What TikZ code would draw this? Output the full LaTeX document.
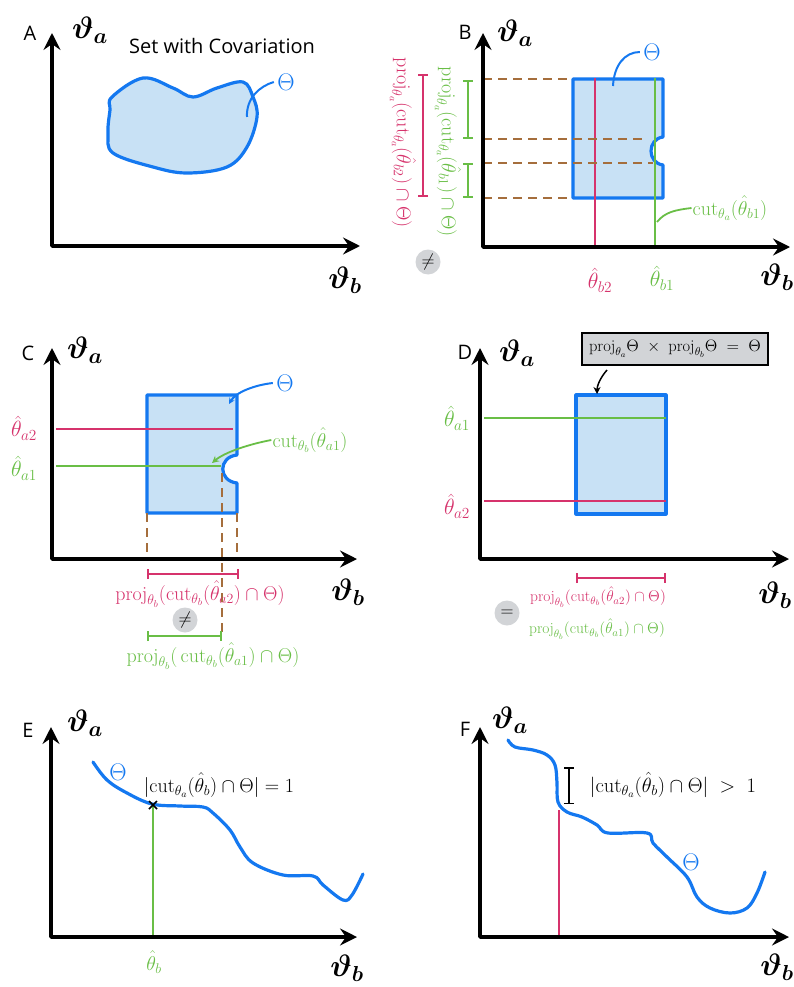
\RequirePackage{fix-cm}
\documentclass[tikz,border=0pt]{standalone}
\usepackage{fontspec}
\setsansfont{Open Sans}
\usepackage{amsmath}
\usetikzlibrary{arrows.meta}
\definecolor{setblue}{RGB}{20,120,240}
\definecolor{setfill}{RGB}{200,225,245}
\definecolor{cred}{RGB}{214,51,108}
\definecolor{cgreen}{RGB}{105,190,70}
\definecolor{cbrown}{RGB}{165,110,60}
\definecolor{cgray}{RGB}{210,212,215}
\begin{document}
\begin{tikzpicture}[x=1pt,y=-1pt,
  axes/.style={line width=3.6pt, line join=round, {Stealth[length=17pt,width=17pt,inset=6pt]}-{Stealth[length=17pt,width=17pt,inset=6pt]}},
  axlbl/.style={font=\fontsize{31}{33}\selectfont\boldmath},
  panellbl/.style={font=\sffamily\fontsize{20}{24}\selectfont},
  setshape/.style={draw=setblue, line width=3.2pt, fill=setfill, line join=round},
  curveline/.style={draw=setblue, line width=3.2pt, line cap=round},
  rln/.style={draw=cred, line width=1.8pt},
  gln/.style={draw=cgreen, line width=1.8pt},
  brdash/.style={draw=cbrown, line width=1.6pt, dash pattern=on 9pt off 6pt},
  barred/.style={{Bar[width=10pt]}-{Bar[width=10pt]}},
  eqcirc/.style={circle, fill=cgray, minimum size=25pt, inner sep=0pt, font=\fontsize{18}{20}\selectfont},
  thetalbl/.style={text=setblue, font=\fontsize{24}{26}\selectfont},
  lead/.style={draw=setblue, line width=2pt},
  rtxt/.style={text=cred},
  gtxt/.style={text=cgreen},
  bigmath/.style={font=\fontsize{20}{22}\selectfont, inner sep=1pt},
  midmath/.style={font=\fontsize{15.5}{17}\selectfont, inner sep=1pt},
  hatlbl/.style={font=\fontsize{22}{24}\selectfont, inner sep=1pt}
]
\useasboundingbox (0,0) rectangle (793,987);

% ---------------- Panel A ----------------
\coordinate (A0) at (52,246); \coordinate (Ay) at (52,33); \coordinate (Ax) at (360,246);
\draw[axes] (Ay) -- (A0) -- (Ax);
\node[panellbl] (Alab) at (30,33) {A};
\node[axlbl] (Ata) at (90,30) {$\vartheta_a$};
\node[axlbl] (Atb) at (345,280) {$\vartheta_b$};
\node[panellbl] (Atitle) at (222,46) {Set with Covariation};
\draw[setshape] plot[smooth cycle, tension=0.6] coordinates {(112,97) (143,78) (173,88) (193,97) (217,88) (243,82) (253,97) (257,117) (247,147) (227,167) (187,173) (153,167) (113,153) (108,133) (110,110)};
\node[thetalbl] (ATh) at (286,82) {$\Theta$};
\coordinate (Als) at (247,117);
\draw[lead] (Als) .. controls (246,98) and (260,86) .. (ATh.west);

% ---------------- Panel B ----------------
\coordinate (B0) at (483,247); \coordinate (By) at (483,33); \coordinate (Bx) at (790,247);
\draw[setshape] (573,79) -- (663,79) -- (663,137) .. controls (647,139) and (647,163) .. (663,165) -- (663,198) -- (573,198) -- cycle;
\draw[rln] (595,78) -- (595,247);
\draw[gln] (655,78) -- (655,247);
\draw[brdash] (483,79) -- (573,79);
\draw[brdash] (483,139) -- (645,139);
\draw[brdash] (483,163) -- (653,163);
\draw[brdash] (483,198) -- (573,198);
\draw[axes] (By) -- (B0) -- (Bx);
\node[panellbl] (Blab) at (465,32) {B};
\node[axlbl] (Bta) at (515,33) {$\vartheta_a$};
\node[axlbl] (Btb) at (777,277) {$\vartheta_b$};
\draw[gln, barred] (468,80) -- (468,139);
\draw[gln, barred] (468,163) -- (468,198);
\draw[rln, barred] (423,74) -- (423,197);
\node[rtxt, bigmath, rotate=-90] (Bred) at (403,143) {$\mathrm{proj}_{\theta_a}(\mathrm{cut}_{\theta_a}(\hat\theta_{b2})\cap\Theta)$};
\node[gtxt, bigmath, rotate=-90] (Bgreen) at (448,152) {$\mathrm{proj}_{\theta_a}(\mathrm{cut}_{\theta_a}(\hat\theta_{b1})\cap\Theta)$};
\node[eqcirc] (Bneq) at (428,262) {$\neq$};
\node[thetalbl] (BTh) at (652,52) {$\Theta$};
\coordinate (Bls) at (613,86);
\draw[lead] (Bls) .. controls (614,65) and (625,52) .. (BTh.west);
\node[gtxt, bigmath] (Bcut) at (730,208) {$\mathrm{cut}_{\theta_a}(\hat\theta_{b1})$};
\coordinate (Bcs) at (657,222);
\draw[gln] (Bcs) .. controls (665,212) and (675,210) .. (Bcut.west);
\node[rtxt, hatlbl] (Bb2) at (600,280) {$\hat\theta_{b2}$};
\node[gtxt, hatlbl] (Bb1) at (662,278) {$\hat\theta_{b1}$};

% ---------------- Panel C ----------------
\coordinate (C0) at (52,559); \coordinate (Cy) at (52,348); \coordinate (Cx) at (357,559);
\draw[setshape] (147,395) -- (237,395) -- (237,455) .. controls (218,457) and (218,481) .. (237,483) -- (237,513) -- (147,513) -- cycle;
\draw[rln] (56,429) -- (233,429);
\draw[gln] (56,466) -- (221,466);
\draw[brdash] (147,513) -- (147,559);
\draw[brdash] (222,473) -- (222,632);
\draw[brdash] (237,513) -- (237,559);
\draw[axes] (Cy) -- (C0) -- (Cx);
\node[panellbl] (Clab) at (28,353) {C};
\node[axlbl] (Cta) at (85,350) {$\vartheta_a$};
\node[axlbl] (Ctb) at (348,592) {$\vartheta_b$};
\node[rtxt, hatlbl] (Ca2) at (24,428) {$\hat\theta_{a2}$};
\node[gtxt, hatlbl] (Ca1) at (24,468) {$\hat\theta_{a1}$};
\draw[rln, barred] (147,574) -- (239,574);
\node[rtxt, bigmath] (Cred) at (200,594) {$\mathrm{proj}_{\theta_b}(\mathrm{cut}_{\theta_b}(\hat\theta_{a2})\cap\Theta)$};
\node[eqcirc] (Cneq) at (185,620) {$\neq$};
\draw[gln, barred] (147,636) -- (222,636);
\node[gtxt, bigmath] (Cgreen) at (213,656) {$\mathrm{proj}_{\theta_b}(\,\mathrm{cut}_{\theta_b}(\hat\theta_{a1})\cap\Theta)$};
\node[thetalbl] (CTh) at (285,383) {$\Theta$};
\coordinate (Cle) at (229,404);
\draw[lead, -{Stealth[length=6pt,width=6pt]}] (CTh.west) .. controls (255,385) and (236,392) .. (Cle);
\node[gtxt, bigmath] (Ccut) at (310,440) {$\mathrm{cut}_{\theta_b}(\hat\theta_{a1})$};
\coordinate (Cce) at (212,463);
\draw[gln, -{Stealth[length=7pt,width=7pt]}] (Ccut.west) .. controls (250,444) and (225,452) .. (Cce);

% ---------------- Panel D ----------------
\coordinate (D0) at (480,559); \coordinate (Dy) at (480,348); \coordinate (Dx) at (789,559);
\draw[setshape] (576,395) rectangle (666,514);
\draw[gln] (484,418) -- (666,418);
\draw[rln] (484,501) -- (666,501);
\draw[axes] (Dy) -- (D0) -- (Dx);
\node[panellbl] (Dlab) at (465,352) {D};
\node[axlbl] (Dta) at (517,353) {$\vartheta_a$};
\node[axlbl] (Dtb) at (775,595) {$\vartheta_b$};
\node[draw=black, line width=1.5pt, fill=cgray, minimum width=186pt, minimum height=32pt, inner sep=2pt, font=\fontsize{16.5}{18}\selectfont] (Dbox) at (675,349) {$\mathrm{proj}_{\theta_a}\Theta \;\times\; \mathrm{proj}_{\theta_b}\Theta \;=\; \Theta$};
\coordinate (Das) at (607,370);
\coordinate (Dae) at (597,394);
\draw[line width=1.5pt, -{Stealth[length=7pt,width=7pt]}] (Das) .. controls (600,378) and (597,386) .. (Dae);
\node[gtxt, hatlbl] (Da1) at (457,418) {$\hat\theta_{a1}$};
\node[rtxt, hatlbl] (Da2) at (457,506) {$\hat\theta_{a2}$};
\draw[rln, barred] (576,578) -- (666,578);
\node[rtxt, midmath] (Dred) at (598,597) {$\mathrm{proj}_{\theta_b}(\mathrm{cut}_{\theta_b}(\hat\theta_{a2})\cap\Theta)$};
\node[gtxt, midmath] (Dgreen) at (597,629) {$\mathrm{proj}_{\theta_b}(\mathrm{cut}_{\theta_b}(\hat\theta_{a1})\cap\Theta)$};
\node[eqcirc] (Deq) at (507,613) {$=$};

% ---------------- Panel E ----------------
\coordinate (E0) at (51,937); \coordinate (Ey) at (51,727); \coordinate (Ex) at (357,937);
\draw[curveline] plot[smooth, tension=0.6] coordinates {(93,762) (107,780) (127,793) (152,804) (180,806) (203,807) (213,813) (230,830) (240,847) (253,863) (283,875) (313,876) (323,885) (343,900) (352,895) (363,874)};
\draw[gln] (153,805) -- (153,937);
\coordinate (Ex1) at (149,801); \coordinate (Ex2) at (157,809);
\coordinate (Ex3) at (157,801); \coordinate (Ex4) at (149,809);
\draw[line width=1.6pt] (Ex1) -- (Ex2) (Ex3) -- (Ex4);
\draw[axes] (Ey) -- (E0) -- (Ex);
\node[panellbl] (Elab) at (28,730) {E};
\node[axlbl] (Eta) at (85,723) {$\vartheta_a$};
\node[axlbl] (Etb) at (347,968) {$\vartheta_b$};
\node[gtxt, font=\fontsize{20}{22}\selectfont, inner sep=1pt] (Eb) at (154,962) {$\hat\theta_b$};
\node[thetalbl] (ETh) at (118,772) {$\Theta$};
\node[bigmath] (Elbl) at (219,785) {$|\mathrm{cut}_{\theta_a}(\hat\theta_b)\cap\Theta| = 1$};

% ---------------- Panel F ----------------
\coordinate (F0) at (480,937); \coordinate (Fy) at (480,727); \coordinate (Fx) at (789,937);
\draw[curveline] plot[smooth, tension=0.6] coordinates {(508,740) (515,747) (533,750) (547,755) (555,765) (557,783) (558,802) (567,812) (582,817) (597,825) (608,833) (647,833) (653,843) (667,857) (687,877) (697,897) (710,908) (730,913) (747,908) (757,893) (765,872)};
\draw[rln] (559,810) -- (559,937);
\draw[line width=1.5pt, barred] (569,767) -- (569,804);
\draw[axes] (Fy) -- (F0) -- (Fx);
\node[panellbl] (Flab) at (465,729) {F};
\node[axlbl] (Fta) at (510,720) {$\vartheta_a$};
\node[axlbl] (Ftb) at (777,967) {$\vartheta_b$};
\node[bigmath, font=\fontsize{20.5}{22}\selectfont] (Flbl) at (673,785) {$|\mathrm{cut}_{\theta_a}(\hat\theta_b)\cap\Theta| \;>\; 1$};
\node[thetalbl] (FTh) at (691,862) {$\Theta$};
\end{tikzpicture}
\end{document}
